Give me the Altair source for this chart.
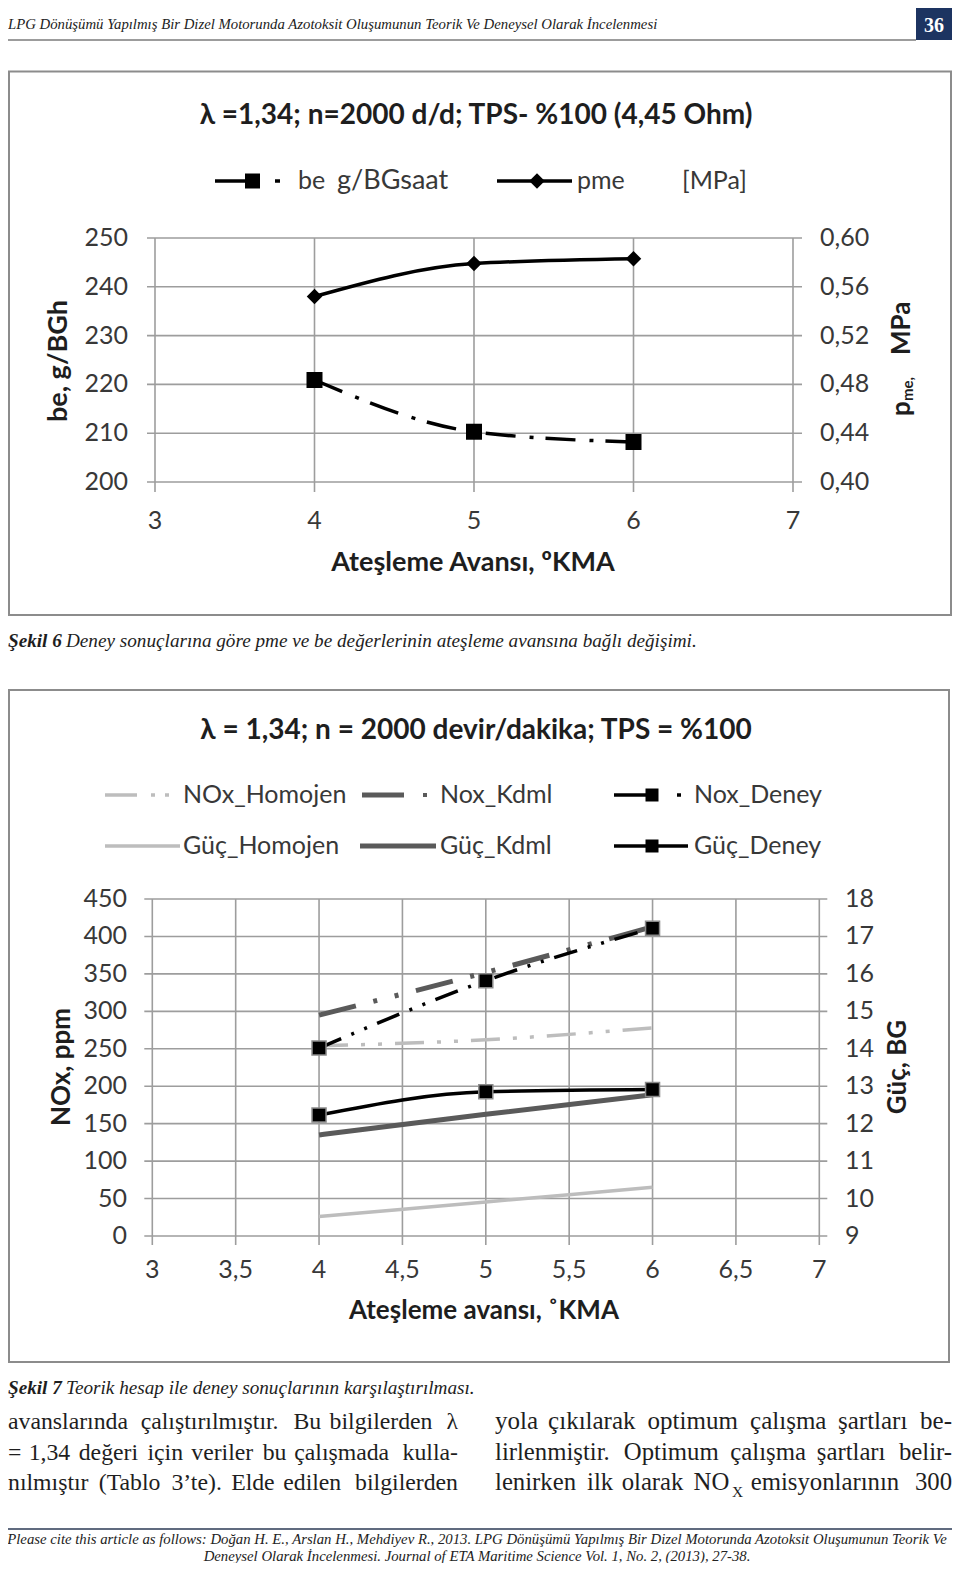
import altair as alt
import pandas as pd

# ---------------- values ----------------
# Şekil 6
avans_1 = [4, 5, 6]
be_gBGh = [220.9, 210.3, 208.2]
pme_MPa = [0.552, 0.579, 0.583]
x1_ticks = [3, 4, 5, 6, 7]
x1_labels = ["3", "4", "5", "6", "7"]
be_ticks = [200, 210, 220, 230, 240, 250]
be_labels = ["200", "210", "220", "230", "240", "250"]
pme_ticks = [0.40, 0.44, 0.48, 0.52, 0.56, 0.60]
pme_labels = ["0,40", "0,44", "0,48", "0,52", "0,56", "0,60"]

# Şekil 7
avans_2 = [4, 5, 6]
nox_homojen = [254, 262, 278]
nox_kdml = [295, 352, 413]
nox_deney = [251, 341, 411]
guc_homojen = [9.52, 9.91, 10.30]
guc_kdml = [11.70, 12.25, 12.77]
guc_deney = [12.23, 12.85, 12.91]
x2_ticks = [3, 3.5, 4, 4.5, 5, 5.5, 6, 6.5, 7]
x2_labels = ["3", "3,5", "4", "4,5", "5", "5,5", "6", "6,5", "7"]
nox_ticks = [0, 50, 100, 150, 200, 250, 300, 350, 400, 450]
nox_labels = ["0", "50", "100", "150", "200", "250", "300", "350", "400", "450"]
guc_ticks = [9, 10, 11, 12, 13, 14, 15, 16, 17, 18]
guc_labels = ["9", "10", "11", "12", "13", "14", "15", "16", "17", "18"]

# page texts
header_text = "LPG Dönüşümü Yapılmış Bir Dizel Motorunda Azotoksit Oluşumunun Teorik Ve Deneysel Olarak İncelenmesi"
page_no = "36"
title_1 = "λ =1,34; n=2000 d/d; TPS- %100 (4,45 Ohm)"
title_2 = "λ = 1,34; n = 2000 devir/dakika; TPS = %100"
caption_1 = ("Şekil 6", "Deney sonuçlarına göre pme ve be değerlerinin ateşleme avansına bağlı değişimi.")
caption_2 = ("Şekil 7", "Teorik hesap ile deney sonuçlarının karşılaştırılması.")
body_left = ["avanslarında çalıştırılmıştır. Bu bilgilerden λ",
             "= 1,34 değeri için veriler bu çalışmada kulla-",
             "nılmıştır (Tablo 3’te). Elde edilen bilgilerden"]
body_right = ["yola çıkılarak optimum çalışma şartları be-",
              "lirlenmiştir. Optimum çalışma şartları belir-",
              "lenirken ilk olarak NO_X emisyonlarının 300"]
footer_1 = ("Please cite this article as follows: Doğan H. E., Arslan H., Mehdiyev R., 2013. LPG Dönüşümü "
            "Yapılmış Bir Dizel Motorunda Azotoksit Oluşumunun Teorik Ve")
footer_2 = "Deneysel Olarak İncelenmesi. Journal of ETA Maritime Science Vol. 1, No. 2, (2013), 27-38."

# ---------------- styles ----------------
SANS = "Lato"
SERIF = "Liberation Serif"
INK = "#1e1e1e"
TICK = "#383838"
GRID = "#9d9d9d"
FRAME = "#8c8c8c"
LIGHT = "#bdbdbd"
DARK = "#5a5a5a"
M = 8  # page margin


def X(v):
    return v - M


def Y(v):
    return v - M


# Times / Liberation Serif advance widths (1/1000 em) for layout estimates
_W = {' ': 250, 'a': 444, 'b': 500, 'c': 444, 'd': 500, 'e': 444, 'f': 333, 'g': 500, 'h': 500,
      'i': 278, 'j': 278, 'k': 500, 'l': 278, 'm': 778, 'n': 500, 'o': 500, 'p': 500, 'q': 500,
      'r': 333, 's': 389, 't': 278, 'u': 500, 'v': 500, 'w': 722, 'x': 500, 'y': 500, 'z': 444,
      'A': 722, 'B': 667, 'C': 667, 'D': 722, 'E': 611, 'F': 556, 'G': 722, 'H': 722, 'I': 333,
      'J': 389, 'K': 722, 'L': 611, 'M': 889, 'N': 722, 'O': 722, 'P': 556, 'Q': 722, 'R': 667,
      'S': 556, 'T': 611, 'U': 722, 'V': 722, 'W': 944, 'X': 722, 'Y': 722, 'Z': 611,
      '.': 250, ',': 250, '-': 333, '=': 564, '(': 333, ')': 333, '’': 333, ':': 278, 'λ': 549,
      'ç': 444, 'ş': 389, 'ğ': 500, 'ı': 278, 'ö': 500, 'ü': 500, 'İ': 333, 'Ş': 556}


def tw(s, size):
    return sum(_W.get(c, 500) for c in s) * size / 1000.0


ONE = pd.DataFrame({"k": [0]})
layers = []


def text(s, x, y, size, font=SANS, weight=None, style=None, color=INK, align="left",
         baseline="middle", angle=None):
    kw = dict(text=s, font=font, fontSize=size, color=color, align=align, baseline=baseline)
    if weight:
        kw["fontWeight"] = weight
    if style:
        kw["fontStyle"] = style
    if angle is not None:
        kw["angle"] = angle
    layers.append(alt.Chart(ONE).mark_text(**kw).encode(x=alt.value(X(x)), y=alt.value(Y(y))))


def seg(x1, x2, y, color, width, dash=None):
    kw = dict(color=color, strokeWidth=width)
    if dash:
        kw["strokeDash"] = dash
    layers.append(alt.Chart(ONE).mark_rule(**kw).encode(
        x=alt.value(X(x1)), x2=alt.value(X(x2)), y=alt.value(Y(y))))


def symbol(x, y, shape, size, fill="black", stroke=None, sw=0):
    kw = dict(shape=shape, filled=True, size=size, fill=fill, opacity=1)
    if stroke:
        kw["stroke"] = stroke
        kw["strokeWidth"] = sw
    else:
        kw["strokeWidth"] = 0
    layers.append(alt.Chart(ONE).mark_point(**kw).encode(x=alt.value(X(x)), y=alt.value(Y(y))))


def frame(x1, y1, x2, y2, stroke=FRAME, fill="white", sw=2):
    layers.append(alt.Chart(ONE).mark_rect(fill=fill, stroke=stroke, strokeWidth=sw).encode(
        x=alt.value(X(x1)), x2=alt.value(X(x2)), y=alt.value(Y(y1)), y2=alt.value(Y(y2))))


def hgrid(ticks, xs, ys, lo, hi, ext_l, ext_r):
    df = pd.DataFrame({"v": ticks})
    layers.append(alt.Chart(df).mark_rule(color=GRID, strokeWidth=1.6, xOffset=-ext_l, x2Offset=ext_r).encode(
        x=alt.XDatum(lo, type="quantitative", scale=xs, axis=None), x2=alt.X2Datum(hi),
        y=alt.Y("v:Q", scale=ys, axis=None)))


def vgrid(ticks, xs, ys, lo, hi, ext_b):
    df = pd.DataFrame({"v": ticks})
    layers.append(alt.Chart(df).mark_rule(color=GRID, strokeWidth=1.6, y2Offset=ext_b).encode(
        x=alt.X("v:Q", scale=xs, axis=None),
        y=alt.YDatum(hi, type="quantitative", scale=ys, axis=None), y2=alt.Y2Datum(lo)))


def series(xs_vals, ys_vals, xs, ys, color, width, dash=None):
    df = pd.DataFrame({"x": xs_vals, "y": ys_vals})
    kw = dict(color=color, strokeWidth=width, interpolate="monotone")
    if dash:
        kw["strokeDash"] = dash
    layers.append(alt.Chart(df).mark_line(**kw).encode(
        x=alt.X("x:Q", scale=xs, axis=None), y=alt.Y("y:Q", scale=ys, axis=None)))


def markers(xs_vals, ys_vals, xs, ys, shape, size, stroke=None, sw=0):
    df = pd.DataFrame({"x": xs_vals, "y": ys_vals})
    kw = dict(shape=shape, filled=True, size=size, fill="black", opacity=1)
    if stroke:
        kw["stroke"] = stroke
        kw["strokeWidth"] = sw
    else:
        kw["strokeWidth"] = 0
    layers.append(alt.Chart(df).mark_point(**kw).encode(
        x=alt.X("x:Q", scale=xs, axis=None), y=alt.Y("y:Q", scale=ys, axis=None)))


def ylabels(ticks, labels, ys, x, align):
    df = pd.DataFrame({"v": ticks, "t": labels})
    layers.append(alt.Chart(df).mark_text(align=align, baseline="middle", font=SANS, fontSize=25,
                                          color=TICK).encode(
        x=alt.value(X(x)), y=alt.Y("v:Q", scale=ys, axis=None), text="t:N"))


def xlabels(ticks, labels, xs, y):
    df = pd.DataFrame({"v": ticks, "t": labels})
    layers.append(alt.Chart(df).mark_text(align="center", baseline="middle", font=SANS, fontSize=25,
                                          color=TICK).encode(
        x=alt.X("v:Q", scale=xs, axis=None), y=alt.value(Y(y)), text="t:N"))


# ---------------- header ----------------
hdr_size = 1.025 * 648 / (tw(header_text, 1))
text(header_text, 8, 25, hdr_size, font=SERIF, style="italic", color="#222")
seg(8, 916, 40, "#3a3a3a", 1.2)
frame(916, 8, 952, 40, stroke="#1d3461", fill="#1d3461", sw=0)
text(page_no, 934, 26, 20, font=SERIF, weight="bold", color="white", align="center")

# ---------------- Şekil 6 ----------------
X1 = alt.Scale(domain=[3, 7], range=[X(155), X(793)], nice=False, zero=False)
Y1L = alt.Scale(domain=[200, 250], range=[Y(482), Y(238)], nice=False, zero=False)
Y1R = alt.Scale(domain=[0.40, 0.60], range=[Y(482), Y(238)], nice=False, zero=False)

frame(9, 71.5, 951, 615)
text(title_1, 476, 116, 28, weight="bold", align="center")
# legend
seg(215, 250, 181, "black", 3.5)
symbol(252.5, 181, "square", 225)
seg(275, 280, 181, "black", 3.5)
text("be", 298, 181, 25, color=TICK)
text("g/BGsaat", 337, 181, 27, color=TICK)
seg(497, 572, 181, "black", 3.5)
symbol(537, 181, "diamond", 240)
text("pme", 577, 181, 25, color=TICK)
text("[MPa]", 682, 181, 25, color=TICK)

hgrid(be_ticks, X1, Y1L, 3, 7, 8, 9)
vgrid(x1_ticks, X1, Y1L, 200, 250, 10)
series(avans_1, pme_MPa, X1, Y1R, "black", 3.5)
markers(avans_1, pme_MPa, X1, Y1R, "diamond", 240)
series(avans_1, be_gBGh, X1, Y1L, "black", 3.5, dash=[30, 14, 4, 12])
markers(avans_1, be_gBGh, X1, Y1L, "square", 256)

ylabels(be_ticks, be_labels, Y1L, 128, "right")
ylabels(pme_ticks, pme_labels, Y1R, 820, "left")
xlabels(x1_ticks, x1_labels, X1, 521)
text("Ateşleme Avansı, ºKMA", 473, 563, 27, weight="bold", align="center")
text("be, g/BGh", 59, 361, 27, weight="bold", align="center", angle=270)
text("p", 902, 416, 26, weight="bold", angle=270)
text("me,", 908, 401, 15, weight="bold", angle=270)
text("MPa", 902, 355, 26, weight="bold", angle=270)

# caption 6
cap_size = 0.99 * 633 / tw(caption_1[1], 1)
text(caption_1[0], 8, 641, cap_size, font=SERIF, weight="bold", style="italic")
text(caption_1[1], 66, 641, cap_size, font=SERIF, style="italic")

# ---------------- Şekil 7 ----------------
X2 = alt.Scale(domain=[3, 7], range=[X(152.3), X(819.3)], nice=False, zero=False)
Y2L = alt.Scale(domain=[0, 450], range=[Y(1236), Y(899)], nice=False, zero=False)
Y2R = alt.Scale(domain=[9, 18], range=[Y(1236), Y(899)], nice=False, zero=False)

frame(9, 690, 949, 1362)
text(title_2, 476, 731, 28, weight="bold", align="center")

DASH_HOM = [29, 13, 4, 13, 4, 13]
DASH_KDML = [38, 18, 4, 18, 4, 18]
DASH_DEN = [24, 11, 3, 11, 3, 11]

# legend row 1
seg(105, 137, 795, LIGHT, 3.5)
seg(151, 155, 795, LIGHT, 3.5)
seg(165, 169, 795, LIGHT, 3.5)
text("NOx_Homojen", 183, 795, 25, color=TICK)
seg(362, 404, 795, DARK, 5)
seg(423, 427, 795, DARK, 4)
text("Nox_Kdml", 440, 795, 25, color=TICK)
seg(614, 655, 795, "black", 3.5)
symbol(652, 795, "square", 169)
seg(677, 681, 795, "black", 3.5)
text("Nox_Deney", 694, 795, 25, color=TICK)
# legend row 2
seg(105, 180, 846, LIGHT, 3.5)
text("Güç_Homojen", 183, 846, 25, color=TICK)
seg(360, 436, 846, DARK, 5)
text("Güç_Kdml", 440, 846, 25, color=TICK)
seg(614, 688, 846, "black", 3.5)
symbol(652, 846, "square", 169)
text("Güç_Deney", 694, 846, 25, color=TICK)

hgrid(nox_ticks, X2, Y2L, 3, 7, 8, 8)
vgrid(x2_ticks, X2, Y2L, 0, 450, 9)

series(avans_2, guc_homojen, X2, Y2R, LIGHT, 3.5)
series(avans_2, guc_kdml, X2, Y2R, DARK, 5)
series(avans_2, guc_deney, X2, Y2R, "black", 3.5)
series(avans_2, nox_homojen, X2, Y2L, LIGHT, 3.5, dash=DASH_HOM)
series(avans_2, nox_kdml, X2, Y2L, DARK, 5, dash=DASH_KDML)
series(avans_2, nox_deney, X2, Y2L, "black", 3.5, dash=DASH_DEN)
markers(avans_2, guc_deney, X2, Y2R, "square", 196, stroke="#8a8a8a", sw=1.5)
markers(avans_2, nox_deney, X2, Y2L, "square", 196, stroke="#8a8a8a", sw=1.5)

ylabels(nox_ticks, nox_labels, Y2L, 127, "right")
ylabels(guc_ticks, guc_labels, Y2R, 845, "left")
xlabels(x2_ticks, x2_labels, X2, 1270)
text("Ateşleme avansı, ˚KMA", 484, 1311, 26, weight="bold", align="center")
text("NOx, ppm", 62, 1067, 26, weight="bold", align="center", angle=270)
text("Güç, BG", 898, 1067, 26, weight="bold", align="center", angle=270)

# caption 7
text(caption_2[0], 8, 1388, cap_size, font=SERIF, weight="bold", style="italic")
text(caption_2[1], 66, 1388, cap_size, font=SERIF, style="italic")

# ---------------- body text (justified) ----------------
BODY = 25
FIT = 1.045  # rendered glyphs run a little wider than the table


def justified(line, x0, x1, ybase, size):
    words = line.split(" ")

    def ww(w, sz):
        if "_" in w:
            a, b = w.split("_")
            return FIT * (tw(a, sz) + tw(b, sz * 0.62)) + 1
        return FIT * tw(w, sz)

    # shrink the line slightly if its word spaces would get too narrow
    while True:
        ws = [ww(w, size) for w in words]
        gap = (x1 - x0 - sum(ws)) / (len(words) - 1)
        if gap >= 0.26 * size or size <= 22:
            break
        size -= 0.25
    x = x0
    for i, w in enumerate(words):
        if "_" in w:
            a, b = w.split("_")
            text(a, x, ybase, size, font=SERIF, baseline="alphabetic")
            text(b, x + FIT * tw(a, size) + 1, ybase + 7, size * 0.62, font=SERIF, baseline="alphabetic")
        elif i == len(words) - 1:
            text(w, x1, ybase, size, font=SERIF, baseline="alphabetic", align="right")
        else:
            text(w, x, ybase, size, font=SERIF, baseline="alphabetic")
        x += ws[i] + gap


for k, ln in enumerate(body_left):
    justified(ln, 8, 458, 1429 + 30.5 * k, BODY)
for k, ln in enumerate(body_right):
    justified(ln, 495, 952, 1429 + 30.5 * k, BODY)

# ---------------- footer ----------------
seg(8, 952, 1529, "#2b3a55", 1.5)
foot_size = 1.024 * 932 / tw(footer_1, 1)
text(footer_1, 477, 1540, foot_size, font=SERIF, style="italic", align="center", color="#222")
text(footer_2, 477, 1557, foot_size, font=SERIF, style="italic", align="center", color="#222")

chart = alt.layer(*layers).resolve_scale(x="independent", y="independent").properties(
    width=944, height=1555, autosize=alt.AutoSizeParams(type="none"), padding=0
).configure_view(stroke=None)

chart.save("out.html", embed_options={"renderer": "svg", "actions": False})
